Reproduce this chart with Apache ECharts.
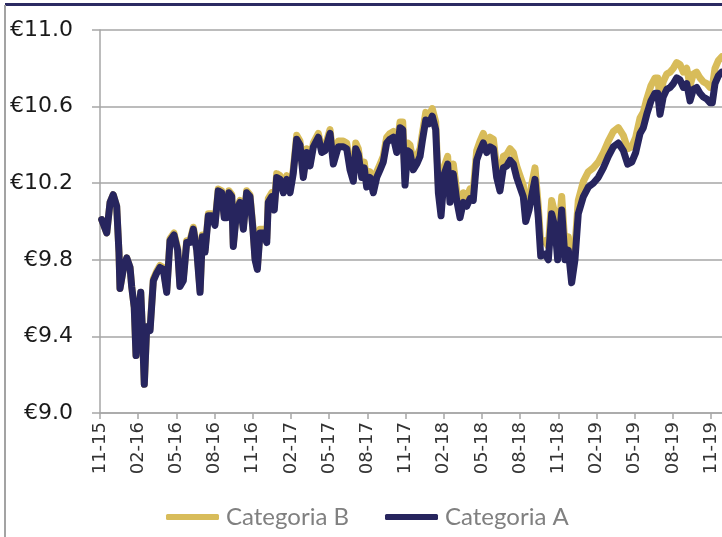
<!DOCTYPE html>
<html>
<head>
<meta charset="utf-8">
<script src="https://cdn.jsdelivr.net/npm/echarts@6/dist/echarts.min.js"></script>
<style>
html,body{margin:0;padding:0;background:#fff;}
#chart{position:absolute;left:0;top:0;width:722px;height:537px;}
#topbar{position:absolute;left:5px;top:3px;width:717px;height:3px;background:#2B2A62;}
#leftbar{position:absolute;left:4px;top:5px;width:2px;height:532px;background:#A3A3A3;}
</style>
</head>
<body>
<div id="chart"></div>
<div id="topbar"></div>
<div id="leftbar"></div>
<script>
// months since Nov 2015
var monthIdx = [0.13,0.53,0.79,1.04,1.31,1.49,1.57,1.83,2.10,2.36,2.49,2.69,2.83,3.01,3.20,3.32,3.48,3.67,3.93,4.19,4.45,4.71,4.97,5.24,5.50,5.81,6.10,6.28,6.54,6.81,7.07,7.33,7.60,7.86,8.04,8.25,8.51,8.77,9.03,9.29,9.56,9.76,9.95,10.13,10.35,10.47,10.74,11.00,11.26,11.52,11.78,12.00,12.18,12.36,12.57,12.83,13.10,13.22,13.49,13.69,13.88,14.14,14.40,14.67,14.93,15.18,15.45,15.71,15.97,16.24,16.50,16.76,17.15,17.42,17.67,18.07,18.33,18.72,19.11,19.38,19.64,19.90,20.09,20.29,20.56,20.76,20.95,21.21,21.47,21.74,22.00,22.25,22.52,22.78,23.04,23.31,23.57,23.78,23.96,24.17,24.35,24.61,24.88,25.14,25.32,25.59,25.84,26.10,26.37,26.58,26.79,27.05,27.31,27.49,27.75,28.02,28.28,28.54,28.81,29.07,29.32,29.59,29.85,30.11,30.38,30.64,30.90,31.16,31.42,31.68,31.95,32.21,32.47,32.73,32.99,33.25,33.44,33.70,33.96,34.17,34.43,34.62,34.96,35.22,35.48,35.74,35.95,36.27,36.53,36.79,37.05,37.31,37.57,37.97,38.36,38.75,39.14,39.54,39.93,40.32,40.72,41.11,41.45,41.77,42.08,42.42,42.68,42.95,43.28,43.60,43.81,43.99,44.24,44.52,44.78,45.04,45.30,45.56,45.82,46.09,46.35,46.61,46.87,47.13,47.39,47.66,47.92,48.10,48.31,48.57,48.84];

var catA = [10.01,9.94,10.10,10.14,10.08,9.84,9.65,9.75,9.81,9.76,9.66,9.55,9.30,9.50,9.63,9.45,9.15,9.45,9.43,9.69,9.73,9.76,9.75,9.63,9.90,9.93,9.85,9.66,9.69,9.89,9.89,9.96,9.85,9.63,9.92,9.84,10.03,10.03,9.98,10.16,10.15,10.02,10.02,10.15,10.13,9.87,10.06,10.10,9.96,10.15,10.13,9.97,9.80,9.75,9.94,9.94,9.89,10.10,10.13,10.06,10.23,10.22,10.15,10.22,10.15,10.25,10.43,10.40,10.23,10.36,10.29,10.39,10.44,10.36,10.37,10.46,10.30,10.39,10.39,10.38,10.27,10.21,10.38,10.35,10.23,10.28,10.18,10.23,10.15,10.23,10.27,10.31,10.41,10.43,10.44,10.36,10.49,10.48,10.19,10.37,10.36,10.27,10.30,10.34,10.42,10.53,10.51,10.55,10.48,10.15,10.03,10.25,10.30,10.10,10.25,10.11,10.02,10.10,10.08,10.12,10.11,10.32,10.37,10.41,10.36,10.39,10.38,10.23,10.16,10.28,10.29,10.32,10.30,10.23,10.18,10.13,10.00,10.06,10.15,10.22,10.02,9.82,9.83,9.80,10.04,9.97,9.80,10.06,9.80,9.85,9.68,9.80,10.04,10.13,10.18,10.20,10.23,10.28,10.34,10.39,10.41,10.37,10.30,10.31,10.36,10.46,10.49,10.56,10.63,10.67,10.67,10.56,10.65,10.69,10.70,10.72,10.75,10.74,10.70,10.72,10.63,10.69,10.70,10.67,10.65,10.64,10.62,10.62,10.72,10.76,10.78];

var catB = [10.01,9.94,10.10,10.14,10.08,9.84,9.65,9.75,9.81,9.76,9.66,9.55,9.30,9.50,9.63,9.45,9.15,9.45,9.44,9.70,9.74,9.77,9.76,9.64,9.91,9.94,9.86,9.67,9.70,9.90,9.90,9.97,9.86,9.64,9.93,9.85,10.04,10.04,9.99,10.17,10.16,10.03,10.03,10.16,10.14,9.88,10.07,10.11,9.97,10.16,10.14,9.98,9.81,9.76,9.96,9.96,9.91,10.12,10.15,10.08,10.25,10.24,10.17,10.24,10.17,10.27,10.45,10.42,10.25,10.38,10.31,10.41,10.46,10.38,10.39,10.48,10.33,10.42,10.42,10.41,10.30,10.24,10.41,10.38,10.26,10.31,10.21,10.26,10.18,10.26,10.30,10.34,10.44,10.46,10.47,10.39,10.52,10.52,10.23,10.41,10.40,10.31,10.34,10.38,10.46,10.57,10.55,10.59,10.52,10.19,10.07,10.29,10.34,10.15,10.30,10.16,10.07,10.15,10.13,10.17,10.16,10.37,10.42,10.46,10.41,10.44,10.43,10.28,10.22,10.34,10.35,10.38,10.36,10.29,10.24,10.19,10.06,10.12,10.21,10.28,10.08,9.89,9.90,9.87,10.11,10.04,9.87,10.13,9.87,9.92,9.75,9.87,10.11,10.21,10.26,10.28,10.31,10.36,10.42,10.47,10.49,10.45,10.38,10.39,10.44,10.54,10.57,10.64,10.71,10.75,10.75,10.64,10.73,10.77,10.78,10.80,10.83,10.82,10.78,10.80,10.71,10.77,10.78,10.75,10.73,10.72,10.70,10.70,10.80,10.84,10.86];

var xTickLabels = ['11-15','02-16','05-16','08-16','11-16','02-17','05-17','08-17','11-17','02-18','05-18','08-18','11-18','02-19','05-19','08-19','11-19'];
var seriesNames = ['Categoria B', 'Categoria A'];

function zip(xs, ys) { return xs.map(function (x, i) { return [x, ys[i]]; }); }

var chart = echarts.init(document.getElementById('chart'), null, {renderer: 'canvas'});
var gridColor = '#A6A6A6';
chart.setOption({
  animation: false,
  backgroundColor: 'transparent',
  grid: {left: 100, right: 0, top: 30, bottom: 124, containLabel: false},
  legend: {
    data: seriesNames,
    left: 166,
    top: 505,
    icon: 'roundRect',
    itemWidth: 53,
    itemHeight: 6,
    itemGap: 36,
    padding: 0,
    textStyle: {fontFamily: 'Lato', fontSize: 24, color: '#808080', padding: [0, 0, 0, 2]}
  },
  xAxis: {
    type: 'value',
    min: 0,
    max: 48.86,
    interval: 3,
    axisLine: {show: true, lineStyle: {color: gridColor, width: 1.5}},
    axisTick: {show: true, length: 6, lineStyle: {color: gridColor, width: 1.5}},
    splitLine: {show: false},
    axisLabel: {
      rotate: 90,
      margin: 9,
      fontFamily: 'DejaVu Sans',
      fontSize: 18,
      color: '#333',
      showMaxLabel: false,
      formatter: function (v) {
        var r = Math.round(v);
        if (Math.abs(v - r) > 1e-6 || r % 3 !== 0) return '';
        return xTickLabels[r / 3] || '';
      }
    }
  },
  yAxis: {
    type: 'value',
    min: 9.0,
    max: 11.0,
    interval: 0.4,
    axisLine: {show: true, lineStyle: {color: gridColor, width: 1.5}},
    axisTick: {show: true, length: 8, lineStyle: {color: gridColor, width: 1.5}},
    splitLine: {show: true, lineStyle: {color: gridColor, width: 1.5}},
    axisLabel: {
      margin: 27,
      fontFamily: 'DejaVu Sans',
      fontSize: 22,
      color: '#1a1a1a',
      formatter: function (v) { return '€' + v.toFixed(1); }
    }
  },
  series: [
    {
      name: seriesNames[0], type: 'line', data: zip(monthIdx, catB),
      showSymbol: false, symbol: 'none',
      itemStyle: {color: '#D8BC5A'},
      lineStyle: {color: '#D8BC5A', width: 7, cap: 'round', join: 'round'},
      z: 2
    },
    {
      name: seriesNames[1], type: 'line', data: zip(monthIdx, catA),
      showSymbol: false, symbol: 'none',
      itemStyle: {color: '#27255E'},
      lineStyle: {color: '#27255E', width: 7, cap: 'round', join: 'round'},
      z: 3
    }
  ]
});
</script>
</body>
</html>
